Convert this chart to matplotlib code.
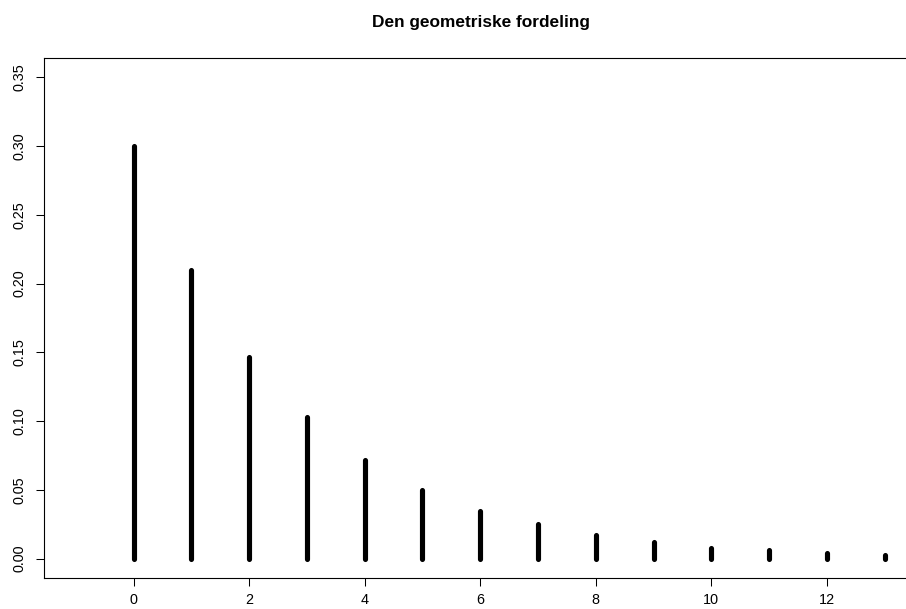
import matplotlib
matplotlib.use("Agg")
import matplotlib.pyplot as plt

plt.rcParams['font.family'] = ['Liberation Sans', 'DejaVu Sans']

title = "Den geometriske fordeling"
k = [0, 1, 2, 3, 4, 5, 6, 7, 8, 9, 10, 11, 12, 13]
prob = [0.300, 0.210, 0.147, 0.103, 0.072, 0.050, 0.035, 0.025, 0.017,
        0.012, 0.008, 0.006, 0.004, 0.003]
xticks = [0, 2, 4, 6, 8, 10, 12]
yticks = [0.00, 0.05, 0.10, 0.15, 0.20, 0.25, 0.30, 0.35]
ytick_labels = ["0.00", "0.05", "0.10", "0.15", "0.20", "0.25", "0.30", "0.35"]

W, H = 906, 609
fig = plt.figure(figsize=(W / 100, H / 100), dpi=100)
left, right, top, bottom = 43.5, 917, 58, 578
ax = fig.add_axes([left / W, (H - bottom) / H, (right - left) / W, (bottom - top) / H])

lc = ax.vlines(k, 0, prob, colors="black", linewidth=3.7)
lc.set_capstyle("round")

ax.set_xlim(-1.56, 13.56)
ax.set_ylim(-0.014, 0.364)

ax.set_xticks(xticks)
ax.set_xticklabels([str(t) for t in xticks])
ax.set_yticks(yticks)
ax.set_yticklabels(ytick_labels, rotation=90, va="center")

ax.tick_params(axis="both", direction="out", length=6.0, width=0.75,
               labelsize=10.4, colors="black")
ax.tick_params(axis="x", pad=4.8)
ax.tick_params(axis="y", pad=6.5)
for s in ax.spines.values():
    s.set_linewidth(0.8)
    s.set_color("black")
ax.spines["right"].set_visible(False)

fig.text(481 / W, 1 - 23 / H, title, ha="center", va="center",
         fontsize=12.4, fontweight="bold")

fig.savefig("out.png", dpi=100)
